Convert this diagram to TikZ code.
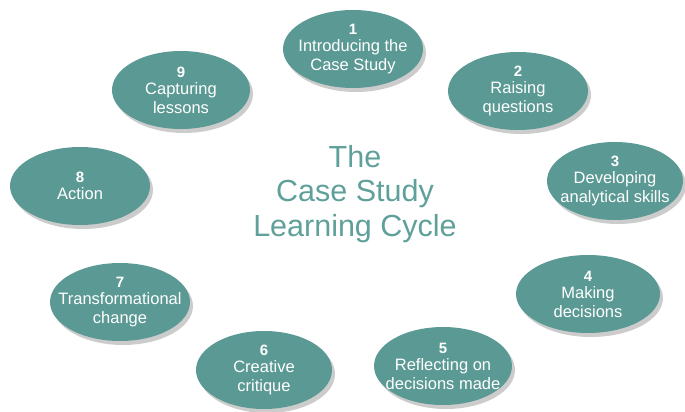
\documentclass[tikz,border=0pt]{standalone}
\usepackage{fontspec}
\setmainfont{Liberation Sans}
\usetikzlibrary{shapes.geometric,shadows}
\definecolor{teal1}{HTML}{5B9A94}
\definecolor{titlecol}{HTML}{5FA09A}
\tikzset{
  stage/.style={ellipse, fill=teal1, minimum width=#1, minimum height=78pt, inner sep=0pt,
    drop shadow={shadow xshift=3pt, shadow yshift=-4pt, fill=black!50, opacity=0.4}},
  stage/.default=140pt,
  stagetext/.style={text=white, align=center, inner sep=0pt, font=\fontsize{16.5}{19}\selectfont},
}
\newcommand{\stg}[2]{{\fontsize{15}{15}\selectfont\bfseries #1}\\[-2pt]#2}
\begin{document}
\begin{tikzpicture}[x=1pt,y=-1pt]
\useasboundingbox (0,0) rectangle (685,412);
\node[stage, label={[stagetext]center:\stg{1}{Introducing the\\Case Study}}] (s1) at (353,49) {};
\node[stage, label={[stagetext]center:\stg{2}{Raising\\questions}}] (s2) at (518,91) {};
\node[stage=136pt, label={[stagetext]center:\stg{3}{Developing\\analytical skills}}] (s3) at (615,181) {};
\node[stage=144pt, label={[stagetext]center:\stg{4}{Making\\decisions}}] (s4) at (588,294) {};
\node[stage=138pt, label={[stagetext]center:\stg{5}{Reflecting on\\decisions made}}] (s5) at (443,366) {};
\node[stage=136pt, label={[stagetext]center:\stg{6}{Creative\\critique}}] (s6) at (264,370) {};
\node[stage, label={[stagetext]center:\stg{7}{Transformational\\change}}] (s7) at (120,302) {};
\node[stage, label={[stagetext]center:\stg{8}{Action}}] (s8) at (80,186) {};
\node[stage=138pt, label={[stagetext]center:\stg{9}{Capturing\\lessons}}] (s9) at (181,90) {};
\node[text=titlecol, align=center, font=\fontsize{30.5}{34.5}\selectfont] (title) at (355,194) {The\\Case Study\\Learning Cycle};
\end{tikzpicture}
\end{document}
